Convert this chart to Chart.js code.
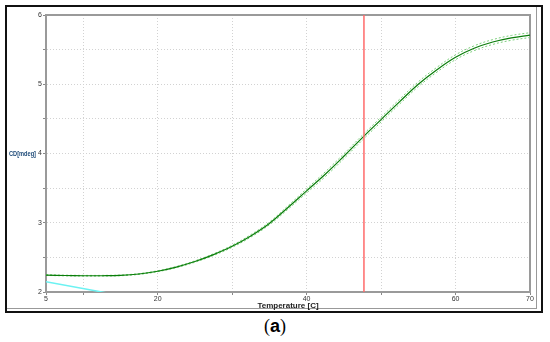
<!DOCTYPE html>
<html>
<head>
<meta charset="utf-8">
<script src="https://cdn.jsdelivr.net/npm/chart.js@4"></script>
<style>
  body { margin: 0; background: #fff; }
  #frame { position: absolute; left: 5px; top: 5px; width: 534px; height: 304px; border: 2px solid #111; }
  #inner { position: absolute; left: 0; top: 0; width: 529px; height: 301px; border-right: 1px solid #999; border-bottom: 1px solid #999; }
  #chart { position: absolute; left: 0; top: 0; }
  #caption { position: absolute; left: 0; width: 550px; top: 316px; text-align: center; font-family: "Liberation Serif", serif; font-size: 18px; color: #000; }
  #caption b { font-family: "Liberation Sans", sans-serif; }
</style>
</head>
<body>
<div id="frame">
  <div id="inner"></div>
  <canvas id="chart" width="534" height="304"></canvas>
</div>
<div id="caption">(<b>a</b>)</div>
<script>
// fitted melting curve
var temps = [5, 7.5, 10, 12.5, 15, 17.5, 20, 22.5, 25, 27.5, 30, 32.5, 35, 37.5, 40, 42.5, 45, 47.5, 50, 52.5, 55, 57.5, 60, 62.5, 65, 67.5, 70];
var cdFit = [2.245, 2.238, 2.235, 2.235, 2.24, 2.26, 2.30, 2.36, 2.44, 2.54, 2.66, 2.81, 2.99, 3.22, 3.46, 3.70, 3.96, 4.23, 4.49, 4.75, 5.00, 5.21, 5.39, 5.52, 5.61, 5.67, 5.71];
var cdUpper = [2.25, 2.243, 2.24, 2.24, 2.245, 2.266, 2.307, 2.368, 2.45, 2.552, 2.675, 2.828, 3.01, 3.245, 3.49, 3.735, 3.995, 4.265, 4.525, 4.785, 5.035, 5.245, 5.425, 5.555, 5.645, 5.705, 5.745];
var cdLower = [2.24, 2.233, 2.23, 2.23, 2.235, 2.254, 2.293, 2.352, 2.43, 2.528, 2.645, 2.792, 2.97, 3.195, 3.43, 3.665, 3.925, 4.195, 4.455, 4.715, 4.965, 5.175, 5.355, 5.485, 5.575, 5.635, 5.675];

// baseline (cyan) and marker (red)
var baseTemps = [5, 12.5, 20];
var baseCd = [2.15, 2.0, 1.85];
var markerTemp = 47.7;

// axes
var xTickValues = [5, 10, 20, 30, 40, 50, 60, 70];
var xLabelValues = [5, 20, 40, 60, 70];
var yTickValues = [2, 2.5, 3, 3.5, 4, 4.5, 5, 5.5, 6];
var yLabelValues = [2, 3, 4, 5, 6];

var smallFont = '"Liberation Sans Narrow", "Liberation Sans", sans-serif';

function pts(xs, ys) {
    return xs.map(function (x, i) { return {x: x, y: ys[i]}; });
}

var plotFrame = {
    id: 'plotFrame',
    beforeDatasetsDraw: function (chart) {
        var a = chart.chartArea, ctx = chart.ctx;
        ctx.save();
        ctx.strokeStyle = '#9a9a9a';
        ctx.lineWidth = 2;
        ctx.strokeRect(a.left, a.top, a.right - a.left, a.bottom - a.top);
        ctx.restore();
    },
    afterDraw: function (chart) {
        var ctx = chart.ctx;
        var y = chart.scales.y.getPixelForValue(4);
        ctx.save();
        ctx.font = 'bold 7px ' + smallFont;
        ctx.fillStyle = '#1d4a78';
        ctx.textAlign = 'left';
        ctx.textBaseline = 'middle';
        // squeeze to the width it has in the picture
        ctx.fillText('CD[mdeg]', 2, y + 1, 27);
        ctx.restore();
    }
};

var ctx = document.getElementById('chart').getContext('2d');
var chart = new Chart(ctx, {
    type: 'line',
    data: {
        datasets: [{
            label: 'marker',
            data: [{x: markerTemp, y: 2}, {x: markerTemp, y: 6}],
            borderColor: '#ff6a6a',
            borderWidth: 1.5,
            pointRadius: 0
        }, {
            label: 'fit',
            data: pts(temps, cdFit),
            borderColor: '#0a7d0a',
            borderWidth: 1.2,
            pointRadius: 0,
            tension: 0.4
        }, {
            label: 'upper',
            data: pts(temps, cdUpper),
            borderColor: '#7ccf7c',
            borderWidth: 1,
            borderDash: [2, 2],
            pointRadius: 0,
            tension: 0.4
        }, {
            label: 'lower',
            data: pts(temps, cdLower),
            borderColor: '#7ccf7c',
            borderWidth: 1,
            borderDash: [2, 2],
            pointRadius: 0,
            tension: 0.4
        }, {
            label: 'baseline',
            data: pts(baseTemps, baseCd),
            borderColor: '#6cf2f2',
            borderWidth: 1.5,
            pointRadius: 0
        }]
    },
    options: {
        responsive: false,
        animation: false,
        layout: {padding: {top: 8, right: 11, left: 0, bottom: 0}},
        plugins: {legend: {display: false}, tooltip: {enabled: false}},
        scales: {
            x: {
                type: 'linear',
                min: 5,
                max: 70,
                afterBuildTicks: function (s) { s.ticks = xTickValues.map(function (v) { return {value: v}; }); },
                afterFit: function (s) { s.height = 19; },
                ticks: {
                    autoSkip: false,
                    maxRotation: 0,
                    padding: 0,
                    color: '#333',
                    font: {family: smallFont, size: 7},
                    callback: function (v) { return xLabelValues.indexOf(v) >= 0 ? String(v) : ''; }
                },
                grid: {color: '#d2d2d2', lineWidth: 1, tickLength: 3, tickColor: '#888'},
                border: {display: true, color: '#9a9a9a', width: 2, dash: [1, 2]},
                title: {
                    display: true,
                    text: 'Temperature [C]',
                    color: '#222',
                    font: {family: smallFont, size: 8, weight: 'bold'},
                    padding: {top: 0, bottom: 0}
                }
            },
            y: {
                type: 'linear',
                min: 2,
                max: 6,
                afterBuildTicks: function (s) { s.ticks = yTickValues.map(function (v) { return {value: v}; }); },
                afterFit: function (s) { s.width = 39; },
                ticks: {
                    autoSkip: false,
                    padding: 1,
                    color: '#333',
                    font: {family: smallFont, size: 7},
                    callback: function (v) { return yLabelValues.indexOf(v) >= 0 ? String(v) : ''; }
                },
                grid: {color: '#d2d2d2', lineWidth: 1, tickLength: 3, tickColor: '#888'},
                border: {display: true, color: '#9a9a9a', width: 2, dash: [1, 2]}
            }
        }
    },
    plugins: [plotFrame]
});
</script>
</body>
</html>
